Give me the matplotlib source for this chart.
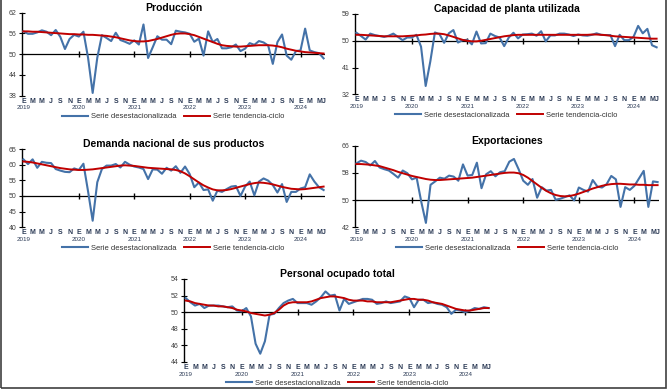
"""Indicadores de confianza manufacturera: cinco paneles, 2019-2024."""

import numpy as np
import matplotlib
matplotlib.use("Agg")
import matplotlib.pyplot as plt
from matplotlib.patches import Rectangle

plt.rcParams["font.family"] = ["Liberation Sans", "DejaVu Sans"]

BLUE = "#4472A8"
RED = "#C00000"
LABEL_COLOR = "#2B3A55"

YEARS = ["2019", "2020", "2021", "2022", "2023", "2024"]
MONTH_LETTERS = ["E", "F", "M", "A", "M", "J", "J", "A", "S", "O", "N", "D"]
N_MONTHS = 66  # enero 2019 - junio 2024

prod_sa = [56.6, 55.9, 55.9, 56.3, 56.9, 56.5, 55.5, 57.0, 55.0, 51.5, 54.4, 55.6,
           55.1, 56.5, 49.0, 38.8, 49.0, 55.5, 54.7, 53.8, 56.2, 54.1, 53.6, 53.0,
           54.0, 52.8, 58.6, 48.9, 52.0, 55.2, 54.2, 54.2, 52.9, 56.8, 56.5, 56.3,
           55.9, 53.6, 54.5, 49.6, 56.6, 53.5, 54.4, 51.7, 51.7, 52.0, 52.8, 50.9,
           51.6, 53.2, 52.7, 53.8, 53.4, 52.5, 47.2, 53.5, 55.7, 49.6, 48.4, 50.9,
           51.1, 57.4, 51.1, 50.6, 50.3, 48.8]
prod_tc = [56.6, 56.6, 56.5, 56.5, 56.4, 56.3, 56.2, 56.1, 56.0, 55.9, 55.8, 55.8,
           55.7, 55.7, 55.6, 55.6, 55.5, 55.4, 55.3, 55.1, 54.9, 54.6, 54.3, 54.0,
           53.8, 53.7, 53.7, 53.8, 54.1, 54.4, 54.8, 55.2, 55.6, 55.9, 56.0, 56.0,
           55.8, 55.5, 55.0, 54.5, 54.0, 53.5, 53.0, 52.6, 52.4, 52.3, 52.2, 52.2,
           52.3, 52.4, 52.5, 52.6, 52.6, 52.6, 52.5, 52.3, 52.0, 51.6, 51.3, 51.0,
           50.8, 50.6, 50.5, 50.4, 50.3, 50.2]

cap_sa = [52.7, 51.6, 50.4, 52.4, 51.9, 51.6, 51.3, 51.7, 52.4, 51.3, 50.2, 51.1,
          51.1, 52.0, 48.0, 34.8, 43.0, 52.8, 52.2, 49.3, 52.5, 53.6, 49.4, 50.2,
          50.3, 48.8, 53.1, 49.1, 49.2, 52.4, 51.6, 51.1, 48.2, 51.1, 52.7, 50.8,
          52.1, 52.2, 52.4, 51.7, 53.2, 49.8, 51.8, 51.8, 52.4, 52.4, 52.1, 51.6,
          52.1, 51.8, 51.7, 52.0, 52.5, 52.0, 51.9, 51.9, 48.2, 52.0, 50.2, 50.2,
          51.3, 55.0, 52.5, 54.0, 48.5, 47.8]
cap_tc = [52.0, 52.0, 51.9, 51.8, 51.7, 51.6, 51.5, 51.5, 51.5, 51.5, 51.5, 51.6,
          51.7, 51.8, 52.0, 52.1, 52.3, 52.4, 52.4, 52.2, 51.8, 51.3, 50.8, 50.3,
          50.0, 49.8, 49.8, 50.0, 50.3, 50.6, 50.9, 51.2, 51.5, 51.7, 51.9, 52.0,
          52.0, 52.0, 52.0, 52.0, 52.0, 52.0, 52.0, 52.0, 52.0, 52.0, 52.0, 52.0,
          52.0, 52.0, 52.0, 52.1, 52.1, 52.0, 51.9, 51.7, 51.5, 51.4, 51.3, 51.2,
          51.1, 51.0, 50.9, 50.8, 50.7, 50.7]

dem_sa = [61.7, 60.2, 61.7, 59.0, 60.9, 60.6, 60.5, 58.6, 58.1, 57.7, 57.6, 58.8,
          58.3, 60.3, 51.5, 42.1, 54.4, 58.6, 59.7, 59.7, 60.2, 59.1, 60.9, 60.0,
          59.4, 59.1, 58.6, 55.4, 58.5, 58.4, 57.1, 59.0, 58.1, 59.5, 57.4, 59.4,
          57.0, 52.8, 54.3, 51.9, 52.1, 48.5, 51.7, 51.3, 52.2, 53.0, 53.2, 50.0,
          53.0, 54.6, 50.2, 54.6, 55.6, 54.9, 53.5, 51.1, 53.8, 48.1, 51.3, 51.3,
          52.4, 52.8, 56.9, 54.6, 52.8, 51.9]
dem_tc = [61.0, 60.9, 60.7, 60.4, 60.1, 59.8, 59.5, 59.2, 58.9, 58.7, 58.5, 58.4,
          58.3, 58.3, 58.4, 58.5, 58.7, 58.9, 59.1, 59.3, 59.5, 59.7, 59.8, 59.7,
          59.6, 59.4, 59.2, 59.0, 58.9, 58.8, 58.7, 58.6, 58.5, 58.3, 57.9, 57.2,
          56.3, 55.3, 54.3, 53.4, 52.7, 52.1, 51.8, 51.8, 51.9, 52.2, 52.6, 53.0,
          53.4, 53.8, 54.1, 54.3, 54.2, 54.0, 53.7, 53.3, 52.9, 52.6, 52.3, 52.2,
          52.1, 52.2, 52.4, 52.6, 52.8, 53.0]

exp_sa = [60.8, 61.6, 61.2, 60.2, 61.5, 59.6, 59.1, 58.7, 57.7, 56.6, 58.7, 57.9,
          56.1, 56.6, 49.5, 43.3, 54.5, 55.5, 56.6, 56.3, 57.2, 56.9, 55.7, 60.5,
          57.2, 57.4, 61.0, 53.5, 57.6, 58.5, 57.0, 58.2, 58.5, 61.3, 62.1, 59.1,
          55.7, 54.5, 56.2, 50.7, 53.8, 52.8, 53.0, 50.1, 50.4, 50.9, 51.4, 49.9,
          53.7, 53.0, 52.5, 55.9, 54.0, 53.7, 54.7, 57.1, 56.1, 48.0, 53.8, 53.0,
          54.2, 56.4, 58.6, 48.0, 55.5, 55.3]
exp_tc = [60.6, 60.6, 60.5, 60.4, 60.2, 60.0, 59.6, 59.2, 58.8, 58.3, 57.9, 57.5,
          57.1, 56.8, 56.5, 56.2, 56.0, 55.9, 55.9, 56.0, 56.1, 56.2, 56.3, 56.4,
          56.5, 56.6, 56.8, 57.0, 57.2, 57.4, 57.6, 57.8, 58.0, 58.1, 58.1, 57.9,
          57.4, 56.6, 55.6, 54.6, 53.6, 52.7, 52.0, 51.5, 51.2, 51.1, 51.2, 51.5,
          51.9, 52.4, 52.9, 53.4, 53.8, 54.2, 54.5, 54.7, 54.8, 54.8, 54.7, 54.6,
          54.6, 54.5, 54.5, 54.4, 54.4, 54.4]

per_sa = [51.7, 51.2, 50.8, 51.0, 50.5, 50.8, 50.8, 50.8, 50.7, 50.6, 50.7, 50.2,
          50.1, 50.5, 49.5, 46.2, 45.0, 46.5, 49.7, 49.8, 50.5, 51.1, 51.4, 51.6,
          51.1, 51.1, 51.1, 50.9, 51.3, 51.8, 52.5, 52.0, 52.1, 50.2, 51.6, 51.0,
          51.2, 51.4, 51.6, 51.6, 51.5, 51.0, 51.1, 51.3, 51.1, 51.2, 51.3, 51.9,
          51.7, 50.6, 51.5, 51.5, 51.1, 51.2, 51.0, 50.9, 50.6, 49.8, 50.3, 50.2,
          50.0, 50.2, 50.5, 50.4, 50.6, 50.5]
per_tc = [51.4, 51.3, 51.1, 51.0, 50.9, 50.8, 50.8, 50.7, 50.7, 50.6, 50.5, 50.3,
          50.2, 50.1, 49.9, 49.8, 49.7, 49.6, 49.7, 49.9, 50.3, 50.8, 51.1, 51.2,
          51.2, 51.2, 51.2, 51.3, 51.5, 51.7, 51.8, 51.9, 51.9, 51.8, 51.7, 51.5,
          51.4, 51.4, 51.4, 51.3, 51.3, 51.2, 51.2, 51.2, 51.2, 51.3, 51.4, 51.5,
          51.6, 51.6, 51.5, 51.5, 51.4, 51.2, 51.1, 51.0, 50.8, 50.6, 50.4, 50.3,
          50.2, 50.2, 50.3, 50.4, 50.5, 50.5]

W, H = 667, 390


def px_rect(left, top, right, bottom):
    """Pixel box -> figure fraction rect."""
    return [left / W, 1 - bottom / H, (right - left) / W, (bottom - top) / H]


def draw_panel(fig, rect, title, sa, tc, ymin, ymax, step):
    ax = fig.add_axes(rect)
    x = np.arange(len(sa))
    ax.plot(x, sa, color=BLUE, lw=1.5, label="Serie desestacionalizada", zorder=3)
    ax.plot(x, tc, color=RED, lw=1.4, label="Serie tendencia-ciclo", zorder=4)
    ax.axhline(50, color="black", lw=0.9, zorder=2)

    # marcas de inicio de año sobre la línea de 50
    jan = x[12::12]
    ax.plot(jan, [50] * len(jan), ls="none", marker="|", ms=4, mew=1.0,
            color="black", zorder=2)

    ax.set_xlim(-0.3, len(sa) - 0.7)
    ax.set_ylim(ymin, ymax)
    ax.set_yticks(np.arange(ymin, ymax + step / 2, step))

    pos = list(range(0, len(sa), 2)) + [len(sa) - 1]
    labels = [MONTH_LETTERS[p % 12] for p in pos]
    ax.set_xticks(pos, labels)
    ax.tick_params(axis="x", length=0, pad=1.5, labelsize=5, labelcolor=LABEL_COLOR)
    for t in ax.get_xticklabels():
        t.set_fontweight("bold")
    ax.tick_params(axis="y", direction="inout", length=4, width=0.8, pad=2,
                   labelsize=5, labelcolor="#404040")

    for k, yr in enumerate(YEARS):
        ax.annotate(yr, xy=(12 * k, 0), xycoords=("data", "axes fraction"),
                    xytext=(0, -7), textcoords="offset points",
                    ha="center", va="top", fontsize=4.5, color=LABEL_COLOR)

    for side in ("top", "right", "bottom"):
        ax.spines[side].set_visible(False)
    ax.spines["left"].set_linewidth(1.0)
    ax.patch.set_visible(False)

    ax.set_title(title, fontsize=7.5, fontweight="bold", pad=-2.5)

    h_px = rect[3] * H
    leg = ax.legend(loc="center", bbox_to_anchor=(0.5, -21 / h_px), ncol=2,
                    frameon=False, fontsize=5.5, handlelength=3.4,
                    handletextpad=0.4, columnspacing=1.0)
    for t in leg.get_texts():
        t.set_color("#333333")
    return ax


def main():
    fig = plt.figure(figsize=(W / 100, H / 100), dpi=100)

    draw_panel(fig, px_rect(22, 12.7, 325, 95.7), "Producción",
               prod_sa, prod_tc, 38, 62, 6)
    draw_panel(fig, px_rect(355, 14, 658, 94.3), "Capacidad de planta utilizada",
               cap_sa, cap_tc, 32, 59, 9)
    draw_panel(fig, px_rect(22, 149, 325, 227.3), "Demanda nacional de sus productos",
               dem_sa, dem_tc, 40, 65, 5)
    draw_panel(fig, px_rect(355, 145.7, 659, 227.3), "Exportaciones",
               exp_sa, exp_tc, 42, 66, 8)
    draw_panel(fig, px_rect(184.3, 279, 490, 362), "Personal ocupado total",
               per_sa, per_tc, 44, 54, 2)

    fig.add_artist(Rectangle((1.5 / W, 2 / H), (W - 3) / W, 1.2,
                             transform=fig.transFigure, fill=False,
                             ec="#404040", lw=1.2))

    fig.savefig("out.png", dpi=100)


if __name__ == "__main__":
    main()
